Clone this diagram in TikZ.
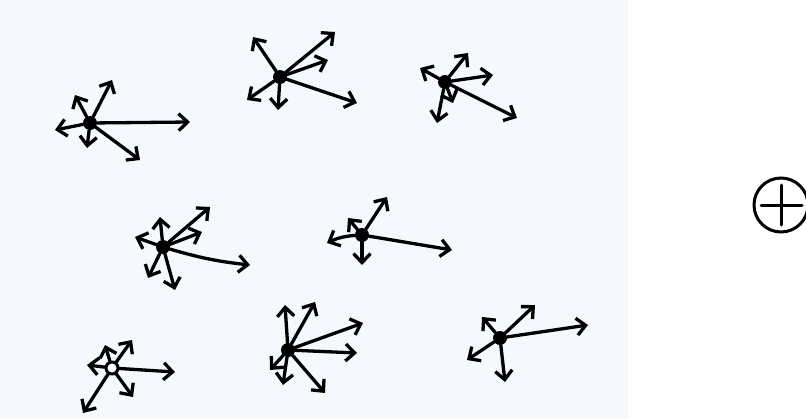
\documentclass[tikz,border=0pt]{standalone}
\usetikzlibrary{arrows.meta}
\definecolor{bgblue}{HTML}{F5F9FD}
\tikzset{
  hub/.style={circle,fill=black,inner sep=0pt,minimum size=14pt},
  ringhub/.style={circle,draw=black,fill=white,line width=3pt,inner sep=0pt,minimum size=12pt},
  vec/.style={line width=3.3pt,line cap=round,-{Straight Barb[length=9pt,width=17pt,line width=3.3pt]}},
  pen/.style={line width=3pt}
}
\begin{document}
\begin{tikzpicture}[x=1pt,y=-1pt]
\useasboundingbox (0,0) rectangle (806,418);
\fill[white] (0,0) rectangle (806,418);
\fill[bgblue] (0,0) rectangle (628,418);
% star 1
\node[hub] (a) at (90,123) {};
\foreach \n/\p in {1/{190,122},2/{55,130},3/{112,80},4/{75,95},5/{87,148},6/{140,160}}
  {\coordinate (a\n) at (\p); \draw[vec] (a) -- (a\n);}
% star 2
\node[hub] (b) at (280,77) {};
\foreach \n/\p in {1/{335,32},2/{328,60},3/{357,103},4/{253,37},5/{247,100},6/{278,110}}
  {\coordinate (b\n) at (\p); \draw[vec] (b) -- (b\n);}
% star 3
\node[hub] (c) at (445,82) {};
\foreach \n/\p in {1/{468,53},2/{493,75},3/{517,118},4/{420,68},5/{453,103},6/{437,123}}
  {\coordinate (c\n) at (\p); \draw[vec] (c) -- (c\n);}
% star 4
\node[hub] (d) at (163,247) {};
\foreach \n/\p in {1/{210,207},2/{202,232},4/{160,217},5/{135,237},6/{148,278},7/{175,290}}
  {\coordinate (d\n) at (\p); \draw[vec] (d) -- (d\n);}
\coordinate (d3) at (250,265);
\draw[vec] (d) to[bend right=5] (d3);
% star 5
\node[hub] (e) at (362,235) {};
\foreach \n/\p in {1/{387,197},2/{348,218},4/{362,265},5/{452,250}}
  {\coordinate (e\n) at (\p); \draw[vec] (e) -- (e\n);}
\coordinate (e3) at (327,243);
\draw[vec] (e) to[bend right=10] (e3);
% star 6
\node[ringhub] (f) at (112,368) {};
\foreach \n/\p in {1/{132,340},2/{105,345},3/{87,365},4/{175,372},5/{133,397},6/{83,413}}
  {\coordinate (f\n) at (\p); \draw[vec] (f) -- (f\n);}
% star 7
\node[hub] (g) at (288,350) {};
\foreach \n/\p in {1/{285,305},2/{315,302},3/{363,323},4/{357,353},5/{325,393},6/{283,385},7/{270,370}}
  {\coordinate (g\n) at (\p); \draw[vec] (g) -- (g\n);}
% star 8
\node[hub] (h) at (500,338) {};
\foreach \n/\p in {1/{535,305},2/{482,317},3/{588,325},4/{467,360},5/{505,382}}
  {\coordinate (h\n) at (\p); \draw[vec] (h) -- (h\n);}
% plus in circle
\node[draw,pen,circle,minimum size=54pt,inner sep=0pt] (plus) at (781,205) {};
\draw[pen,line cap=round] ([xshift=-20pt]plus.center) -- ([xshift=21pt]plus.center);
\draw[pen,line cap=round] ([yshift=-20pt]plus.center) -- ([yshift=20pt]plus.center);
\end{tikzpicture}
\end{document}
